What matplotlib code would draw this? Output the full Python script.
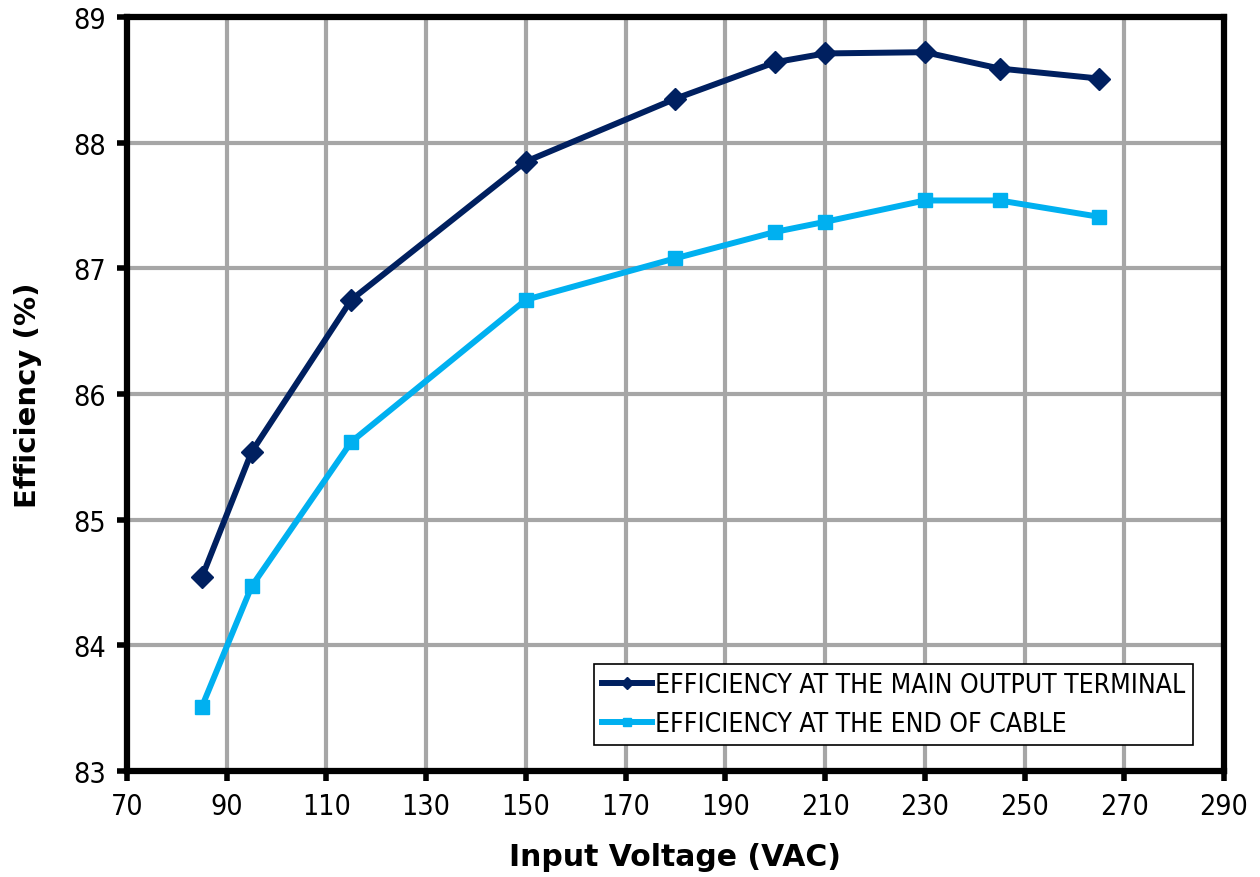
import matplotlib
matplotlib.use("Agg")
import matplotlib.pyplot as plt

voltage = [85, 95, 115, 150, 180, 200, 210, 230, 245, 265]
eff_main = [84.54, 85.54, 86.75, 87.85, 88.35, 88.64, 88.71, 88.72, 88.59, 88.51]
eff_cable = [83.51, 84.47, 85.62, 86.75, 87.08, 87.29, 87.37, 87.54, 87.54, 87.41]
label_main = "EFFICIENCY AT THE MAIN OUTPUT TERMINAL"
label_cable = "EFFICIENCY AT THE END OF CABLE"
xticks = list(range(70, 291, 20))
yticks = list(range(83, 90))

fig = plt.figure(figsize=(12.6, 8.78), dpi=100)
ax = fig.add_axes([0.1008, 0.1207, 0.8706, 0.8588])

ax.plot(voltage, eff_main, color="#002060", lw=4.3, marker="D", ms=11, label=label_main, zorder=3)
ax.plot(voltage, eff_cable, color="#00B0F0", lw=4.3, marker="s", ms=10, label=label_cable, zorder=3)

ax.set_xlim(70, 290)
ax.set_ylim(83, 89)
ax.set_xticks(xticks)
ax.set_yticks(yticks)
ax.grid(True, color="#a6a6a6", lw=3, zorder=0)
ax.set_axisbelow(True)
for s in ax.spines.values():
    s.set_linewidth(4.5)
    s.set_color("black")
ax.tick_params(direction="out", length=7, width=4, labelsize=20.5, pad=8)
for lab in ax.get_xticklabels() + ax.get_yticklabels():
    lab.set_fontstretch("condensed")

ax.set_xlabel("Input Voltage (VAC)", fontsize=21.5, fontweight="bold", labelpad=16)
ax.set_ylabel("Efficiency (%)", fontsize=21, fontweight="bold")
ax.yaxis.set_label_coords(-0.0775, 0.5)

x_right = (1193 - 127) / (1224 - 127)
y_bottom = (772 - 746) / (772 - 18)
leg = ax.legend(loc="lower right", bbox_to_anchor=(x_right, y_bottom), frameon=True,
                fancybox=False, edgecolor="black", framealpha=1,
                prop={"size": 19, "stretch": "condensed"}, handlelength=1.9, handletextpad=0.1,
                borderpad=0.3, borderaxespad=0, labelspacing=0.5, markerscale=0.6)
leg.get_frame().set_linewidth(1.2)

fig.savefig("out.png", dpi=100)
